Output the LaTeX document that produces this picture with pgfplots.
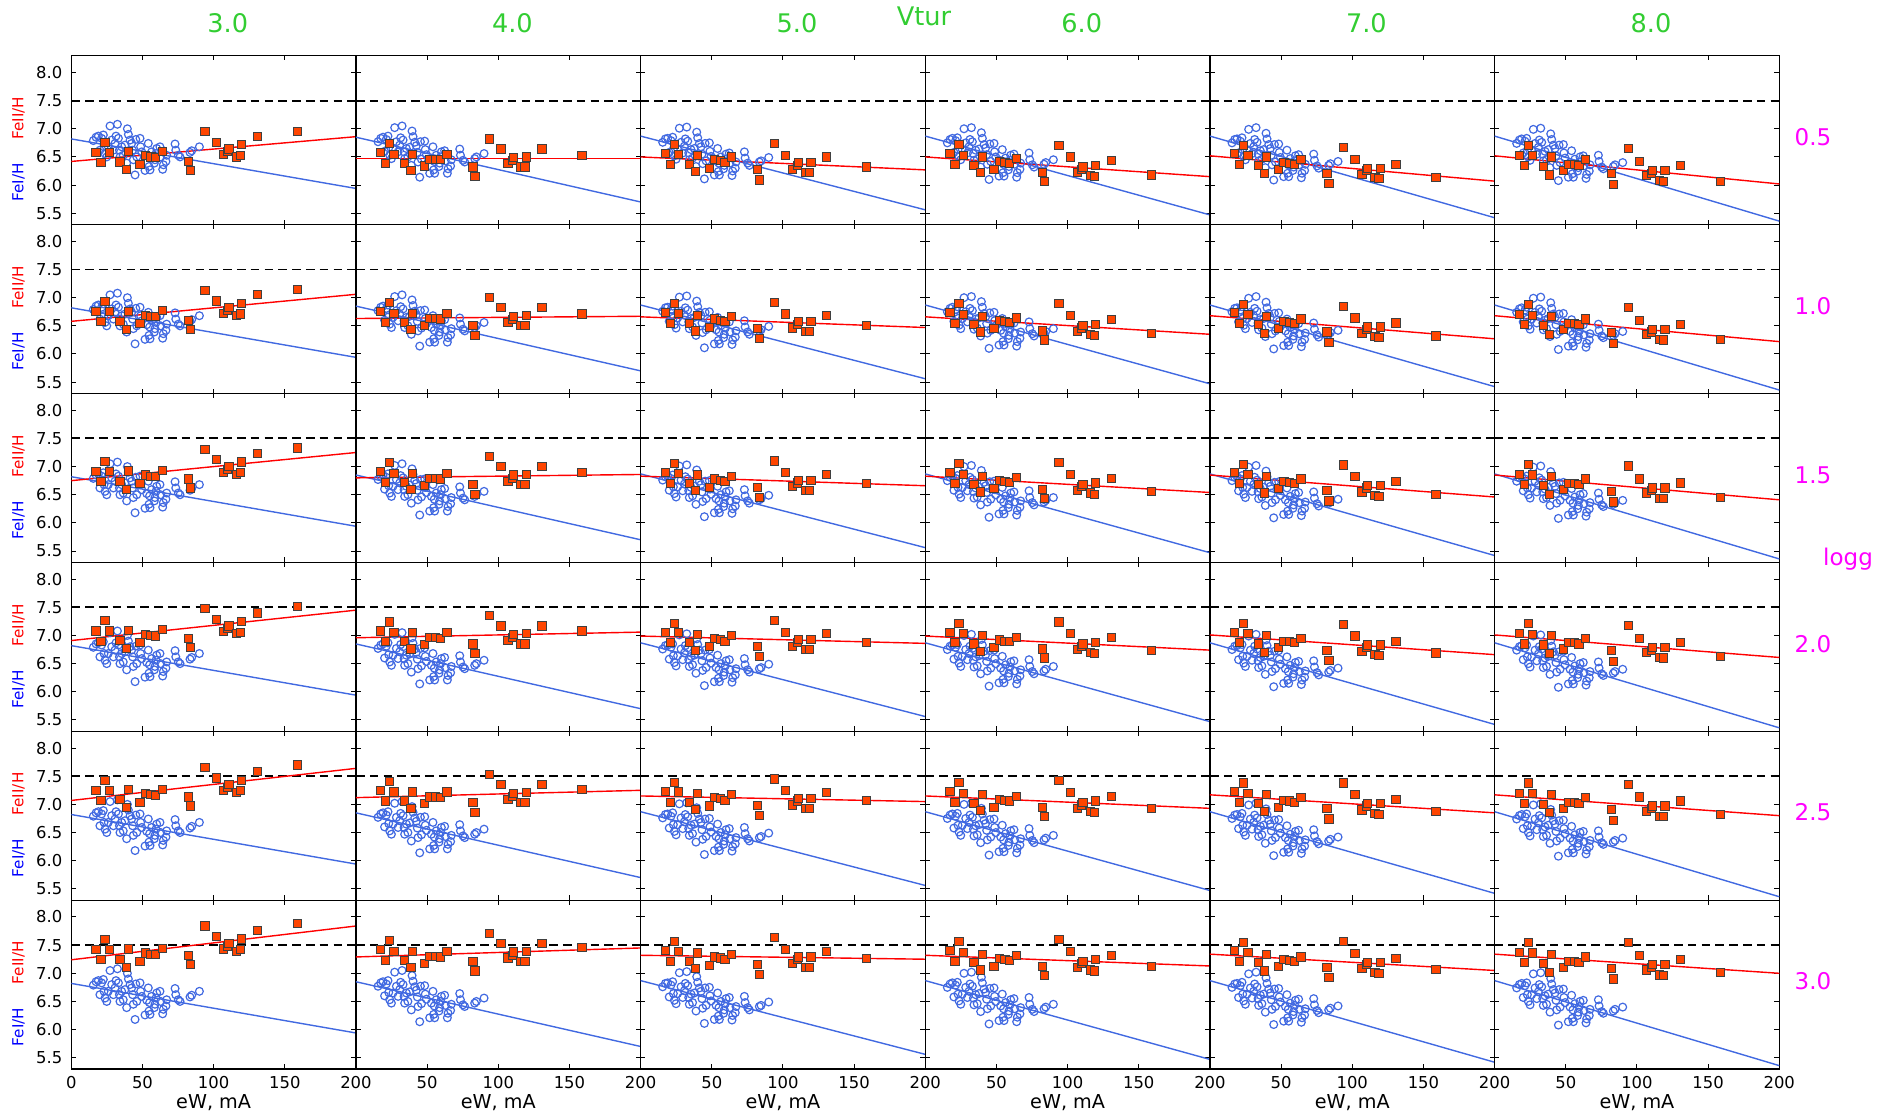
\documentclass[border=0pt]{standalone}
\usepackage{fontspec}
\setmainfont{DejaVu Sans}
\usepackage{pgfplots}
\usepackage{pgfplotstable}
\pgfplotsset{compat=1.18}
\definecolor{lgreen}{HTML}{32CD32}
\definecolor{royal}{HTML}{4169E1}
\definecolor{ored}{HTML}{FF4500}
\definecolor{mag}{HTML}{FF00FF}
\newcommand{\tickfont}{\fontsize{8.2}{9.5}\selectfont}
\newcommand{\xlabfont}{\fontsize{9.6}{11}\selectfont}
\newcommand{\labfont}{\fontsize{7.6}{9}\selectfont}
\newcommand{\bigfont}{\fontsize{12.8}{14}\selectfont}
\newcommand{\magfont}{\fontsize{11.5}{13}\selectfont}
\newcommand{\zerolab}{0}

\pgfplotstableread{
e c1 c2 c3 c4 c5 c6
15.5 6.79 6.77 6.76 6.75 6.75 6.74
17.4 6.85 6.83 6.82 6.81 6.81 6.80
19.0 6.87 6.85 6.83 6.83 6.82 6.82
20.1 6.62 6.60 6.58 6.58 6.57 6.57
21.3 6.83 6.81 6.79 6.79 6.78 6.78
22.5 6.89 6.87 6.85 6.84 6.84 6.83
23.0 6.68 6.66 6.64 6.63 6.63 6.62
23.7 6.56 6.53 6.52 6.51 6.51 6.50
24.9 6.50 6.47 6.46 6.45 6.45 6.44
26.0 6.68 6.65 6.64 6.63 6.63 6.62
27.2 7.05 7.02 7.01 7.00 6.99 6.99
28.4 6.80 6.77 6.76 6.75 6.74 6.74
29.6 6.62 6.59 6.57 6.57 6.56 6.55
30.7 6.74 6.71 6.69 6.68 6.68 6.67
31.4 6.87 6.84 6.82 6.81 6.81 6.80
32.4 7.08 7.05 7.03 7.02 7.02 7.01
33.1 6.83 6.80 6.78 6.77 6.76 6.76
33.8 6.62 6.59 6.57 6.56 6.55 6.55
34.2 6.50 6.47 6.45 6.44 6.43 6.43
35.4 6.68 6.65 6.63 6.62 6.61 6.60
36.5 6.53 6.50 6.48 6.46 6.46 6.45
37.7 6.71 6.67 6.65 6.64 6.63 6.63
38.9 6.39 6.35 6.33 6.32 6.31 6.31
39.4 7.00 6.96 6.94 6.93 6.92 6.91
40.1 6.90 6.86 6.84 6.83 6.82 6.81
41.3 6.80 6.76 6.74 6.72 6.72 6.71
42.4 6.74 6.70 6.68 6.66 6.65 6.65
43.1 6.62 6.58 6.55 6.54 6.53 6.52
43.6 6.45 6.41 6.38 6.37 6.36 6.35
44.8 6.18 6.14 6.11 6.10 6.09 6.08
45.3 6.81 6.77 6.74 6.73 6.72 6.71
46.0 6.50 6.46 6.43 6.42 6.41 6.40
48.3 6.83 6.78 6.75 6.74 6.73 6.72
48.7 6.68 6.63 6.60 6.59 6.58 6.57
49.5 6.59 6.54 6.51 6.50 6.49 6.48
51.8 6.26 6.21 6.18 6.16 6.15 6.14
53.0 6.52 6.47 6.43 6.42 6.41 6.40
54.1 6.74 6.68 6.65 6.63 6.62 6.61
54.6 6.33 6.27 6.24 6.22 6.21 6.20
55.0 6.48 6.42 6.39 6.37 6.36 6.35
55.3 6.27 6.21 6.18 6.16 6.15 6.14
56.4 6.59 6.53 6.50 6.48 6.47 6.46
58.3 6.39 6.33 6.29 6.27 6.26 6.25
58.8 6.45 6.39 6.35 6.33 6.32 6.31
59.5 6.56 6.50 6.46 6.44 6.43 6.41
60.0 6.65 6.59 6.55 6.53 6.52 6.50
62.3 6.68 6.61 6.57 6.55 6.54 6.52
62.8 6.50 6.43 6.39 6.37 6.36 6.34
64.2 6.28 6.21 6.17 6.14 6.13 6.12
64.7 6.36 6.29 6.25 6.22 6.21 6.19
66.5 6.42 6.34 6.30 6.28 6.26 6.25
67.0 6.53 6.45 6.41 6.39 6.37 6.36
72.9 6.73 6.64 6.59 6.57 6.55 6.53
73.4 6.62 6.53 6.48 6.45 6.44 6.42
75.2 6.53 6.44 6.39 6.36 6.34 6.32
76.4 6.50 6.41 6.35 6.32 6.30 6.29
83.4 6.58 6.47 6.41 6.37 6.35 6.33
84.6 6.61 6.50 6.43 6.40 6.38 6.36
90.0 6.68 6.56 6.49 6.45 6.42 6.40
}\tI

\pgfplotstableread{
e r1 r2 r3 r4 r5 r6
17.4 6.58 6.75 6.91 7.08 7.25 7.42
20.9 6.40 6.57 6.73 6.90 7.07 7.24
23.7 6.76 6.93 7.09 7.26 7.43 7.60
26.7 6.58 6.75 6.91 7.08 7.25 7.42
34.2 6.41 6.58 6.74 6.91 7.08 7.25
38.6 6.27 6.44 6.60 6.77 6.94 7.11
40.0 6.59 6.76 6.92 7.09 7.26 7.43
48.3 6.37 6.54 6.70 6.87 7.04 7.21
52.0 6.52 6.69 6.85 7.02 7.19 7.36
56.0 6.50 6.67 6.83 7.00 7.17 7.34
59.3 6.49 6.66 6.82 6.99 7.16 7.33
64.0 6.60 6.77 6.93 7.10 7.27 7.44
82.2 6.42 6.60 6.78 6.95 7.13 7.31
83.6 6.26 6.44 6.62 6.79 6.97 7.15
93.9 6.95 7.13 7.31 7.48 7.66 7.84
101.9 6.76 6.94 7.12 7.29 7.47 7.65
106.8 6.54 6.72 6.90 7.07 7.25 7.43
110.0 6.59 6.77 6.95 7.12 7.30 7.48
110.8 6.64 6.82 7.00 7.17 7.35 7.53
116.0 6.50 6.68 6.86 7.03 7.21 7.39
118.8 6.53 6.71 6.89 7.06 7.24 7.42
119.7 6.72 6.90 7.08 7.25 7.43 7.61
130.7 6.87 7.05 7.23 7.40 7.58 7.76
158.8 6.95 7.14 7.33 7.51 7.70 7.89
}\tIIa

\pgfplotstableread{
e r1 r2 r3 r4 r5 r6
17.4 6.58 6.75 6.91 7.08 7.25 7.42
20.9 6.39 6.56 6.72 6.89 7.06 7.23
23.7 6.74 6.91 7.07 7.24 7.41 7.58
26.7 6.55 6.72 6.88 7.05 7.22 7.39
34.2 6.39 6.56 6.72 6.89 7.06 7.23
38.6 6.26 6.43 6.59 6.76 6.93 7.10
40.0 6.55 6.72 6.88 7.05 7.22 7.39
48.3 6.34 6.51 6.67 6.84 7.01 7.18
52.0 6.46 6.63 6.79 6.96 7.13 7.30
56.0 6.46 6.63 6.79 6.96 7.13 7.30
59.3 6.45 6.62 6.78 6.95 7.12 7.29
64.0 6.55 6.72 6.88 7.05 7.22 7.39
82.2 6.32 6.50 6.68 6.85 7.03 7.21
83.6 6.15 6.33 6.51 6.68 6.86 7.04
93.9 6.82 7.00 7.18 7.35 7.53 7.71
101.9 6.64 6.82 7.00 7.17 7.35 7.53
106.8 6.38 6.56 6.74 6.91 7.09 7.27
110.0 6.43 6.61 6.79 6.96 7.14 7.32
110.8 6.49 6.67 6.85 7.02 7.20 7.38
116.0 6.32 6.50 6.68 6.85 7.03 7.21
118.8 6.32 6.50 6.68 6.85 7.03 7.21
119.7 6.50 6.68 6.86 7.03 7.21 7.39
130.7 6.64 6.82 7.00 7.17 7.35 7.53
158.8 6.52 6.71 6.90 7.08 7.27 7.46
}\tIIb

\pgfplotstableread{
e r1 r2 r3 r4 r5 r6
17.4 6.56 6.73 6.89 7.06 7.23 7.40
20.9 6.37 6.54 6.70 6.87 7.04 7.21
23.7 6.72 6.89 7.05 7.22 7.39 7.56
26.7 6.55 6.72 6.88 7.05 7.22 7.39
34.2 6.37 6.54 6.70 6.87 7.04 7.21
38.6 6.24 6.41 6.57 6.74 6.91 7.08
40.0 6.52 6.69 6.85 7.02 7.19 7.36
48.3 6.30 6.47 6.63 6.80 6.97 7.14
52.0 6.45 6.62 6.78 6.95 7.12 7.29
56.0 6.43 6.60 6.76 6.93 7.10 7.27
59.3 6.40 6.57 6.73 6.90 7.07 7.24
64.0 6.50 6.67 6.83 7.00 7.17 7.34
82.2 6.27 6.45 6.63 6.80 6.98 7.16
83.6 6.09 6.27 6.45 6.62 6.80 6.98
93.9 6.74 6.92 7.10 7.27 7.45 7.63
101.9 6.53 6.71 6.89 7.06 7.24 7.42
106.8 6.28 6.46 6.64 6.81 6.99 7.17
110.0 6.35 6.53 6.71 6.88 7.06 7.24
110.8 6.40 6.58 6.76 6.93 7.11 7.29
116.0 6.22 6.40 6.58 6.75 6.93 7.11
118.8 6.22 6.40 6.58 6.75 6.93 7.11
119.7 6.40 6.58 6.76 6.93 7.11 7.29
130.7 6.50 6.68 6.86 7.03 7.21 7.39
158.8 6.32 6.51 6.70 6.88 7.07 7.26
}\tIIc

\pgfplotstableread{
e r1 r2 r3 r4 r5 r6
17.4 6.56 6.73 6.89 7.06 7.23 7.40
20.9 6.37 6.54 6.70 6.87 7.04 7.21
23.7 6.72 6.89 7.05 7.22 7.39 7.56
26.7 6.53 6.70 6.86 7.03 7.20 7.37
34.2 6.35 6.52 6.68 6.85 7.02 7.19
38.6 6.22 6.39 6.55 6.72 6.89 7.06
40.0 6.50 6.67 6.83 7.00 7.17 7.34
48.3 6.28 6.45 6.61 6.78 6.95 7.12
52.0 6.42 6.59 6.75 6.92 7.09 7.26
56.0 6.40 6.57 6.73 6.90 7.07 7.24
59.3 6.39 6.56 6.72 6.89 7.06 7.23
64.0 6.47 6.64 6.80 6.97 7.14 7.31
82.2 6.23 6.41 6.59 6.76 6.94 7.12
83.6 6.07 6.25 6.43 6.60 6.78 6.96
93.9 6.71 6.89 7.07 7.24 7.42 7.60
101.9 6.50 6.68 6.86 7.03 7.21 7.39
106.8 6.22 6.40 6.58 6.75 6.93 7.11
110.0 6.28 6.46 6.64 6.81 6.99 7.17
110.8 6.32 6.50 6.68 6.85 7.03 7.21
116.0 6.17 6.35 6.53 6.70 6.88 7.06
118.8 6.15 6.33 6.51 6.68 6.86 7.04
119.7 6.35 6.53 6.71 6.88 7.06 7.24
130.7 6.43 6.61 6.79 6.96 7.14 7.32
158.8 6.18 6.37 6.56 6.74 6.93 7.12
}\tIId

\pgfplotstableread{
e r1 r2 r3 r4 r5 r6
17.4 6.56 6.73 6.89 7.06 7.23 7.40
20.9 6.37 6.54 6.70 6.87 7.04 7.21
23.7 6.71 6.88 7.04 7.21 7.38 7.55
26.7 6.53 6.70 6.86 7.03 7.20 7.37
34.2 6.35 6.52 6.68 6.85 7.02 7.19
38.6 6.20 6.37 6.53 6.70 6.87 7.04
40.0 6.50 6.67 6.83 7.00 7.17 7.34
48.3 6.28 6.45 6.61 6.78 6.95 7.12
52.0 6.40 6.57 6.73 6.90 7.07 7.24
56.0 6.39 6.56 6.72 6.89 7.06 7.23
59.3 6.37 6.54 6.70 6.87 7.04 7.21
64.0 6.45 6.62 6.78 6.95 7.12 7.29
82.2 6.21 6.39 6.57 6.74 6.92 7.10
83.6 6.03 6.21 6.39 6.56 6.74 6.92
93.9 6.67 6.85 7.03 7.20 7.38 7.56
101.9 6.46 6.64 6.82 6.99 7.17 7.35
106.8 6.19 6.37 6.55 6.72 6.90 7.08
110.0 6.26 6.44 6.62 6.79 6.97 7.15
110.8 6.30 6.48 6.66 6.83 7.01 7.19
116.0 6.13 6.31 6.49 6.66 6.84 7.02
118.8 6.11 6.29 6.47 6.64 6.82 7.00
119.7 6.30 6.48 6.66 6.83 7.01 7.19
130.7 6.37 6.55 6.73 6.90 7.08 7.26
158.8 6.13 6.32 6.51 6.69 6.88 7.07
}\tIIe

\pgfplotstableread{
e r1 r2 r3 r4 r5 r6
17.4 6.53 6.70 6.86 7.03 7.20 7.37
20.9 6.35 6.52 6.68 6.85 7.02 7.19
23.7 6.71 6.88 7.04 7.21 7.38 7.55
26.7 6.52 6.69 6.85 7.02 7.19 7.36
34.2 6.33 6.50 6.66 6.83 7.00 7.17
38.6 6.18 6.35 6.51 6.68 6.85 7.02
40.0 6.50 6.67 6.83 7.00 7.17 7.34
48.3 6.26 6.43 6.59 6.76 6.93 7.10
52.0 6.37 6.54 6.70 6.87 7.04 7.21
56.0 6.37 6.54 6.70 6.87 7.04 7.21
59.3 6.35 6.52 6.68 6.85 7.02 7.19
64.0 6.45 6.62 6.78 6.95 7.12 7.29
82.2 6.20 6.38 6.56 6.73 6.91 7.09
83.6 6.01 6.19 6.37 6.54 6.72 6.90
93.9 6.65 6.83 7.01 7.18 7.36 7.54
101.9 6.42 6.60 6.78 6.95 7.13 7.31
106.8 6.17 6.35 6.53 6.70 6.88 7.06
110.0 6.21 6.39 6.57 6.74 6.92 7.10
110.8 6.26 6.44 6.62 6.79 6.97 7.15
116.0 6.08 6.26 6.44 6.61 6.79 6.97
118.8 6.07 6.25 6.43 6.60 6.78 6.96
119.7 6.26 6.44 6.62 6.79 6.97 7.15
130.7 6.35 6.53 6.71 6.88 7.06 7.24
158.8 6.07 6.26 6.45 6.63 6.82 7.01
}\tIIf

\pgfplotsset{
  panel/.style={
    scale only axis, width=142.33pt, height=84.45pt,
    anchor=south west,
    xmin=0, xmax=200, ymin=5.3, ymax=8.3,
    xtick={0,50,100,150,200}, ytick={5.5,6,6.5,7,7.5,8},
    minor tick num=0,
    tick align=inside, xtick pos=both, ytick pos=both,
    xticklabel pos=bottom, yticklabel pos=left,
    major tick length=2.4pt,
    tick style={black, line width=0.5pt},
    axis line style={black, line width=0.55pt},
    /pgf/number format/assume math mode=true,
    ticklabel style={font=\tickfont},
    yticklabel style={/pgf/number format/fixed, /pgf/number format/fixed zerofill, /pgf/number format/precision=1, xshift=-1.0pt},
    xticklabel style={yshift=-0.3pt},
    clip=true,
  },
  col0/.style={}, col1/.style={yticklabels={}}, col2/.style={yticklabels={}},
  col3/.style={yticklabels={}}, col4/.style={yticklabels={}}, col5/.style={yticklabels={}},
  row0/.style={xticklabels={}}, row1/.style={xticklabels={}}, row2/.style={xticklabels={}},
  row3/.style={xticklabels={}}, row4/.style={xticklabels={}},
  row5/.style={xticklabels={\zerolab,50,100,150,200}},
}

% #1 col, #2 row, #3 FeII table, #4 FeII column, #5 FeI column, #6/#7 blue line, #8/#9 red line
\newcommand{\panel}[9]{%
  \ifnum#1=0 \renewcommand{\zerolab}{0}\else\renewcommand{\zerolab}{}\fi
  \begin{axis}[panel, col#1, row#2,
      at={({35.65pt+#1*142.33pt},{23pt+(5-#2)*84.45pt})}]
    \addplot[black, dash pattern=on 4.3pt off 2.6pt, line width=0.95pt] coordinates {(0,7.5) (200,7.5)};
    \addplot[only marks, mark=o, mark size=1.95pt, mark options={draw=royal, line width=0.6pt}] table[x=e, y=#5] {\tI};
    \addplot[royal, line width=0.7pt] coordinates {(0,#6) (200,#7)};
    \addplot[red, line width=0.7pt] coordinates {(0,#8) (200,#9)};
    \addplot[only marks, mark=square*, mark size=2.05pt, mark options={fill=ored, draw=black!75, line width=0.5pt}] table[x=e, y=#4] {#3};
  \end{axis}}

\begin{document}
\begin{tikzpicture}
\path[use as bounding box] (0,0) rectangle (947pt,557.5pt);
% column 1 (Vtur 3.0)
\panel{0}{0}{\tIIa}{r1}{c1}{6.82}{5.94}{6.42}{6.86}
\panel{0}{1}{\tIIa}{r2}{c1}{6.82}{5.94}{6.58}{7.06}
\panel{0}{2}{\tIIa}{r3}{c1}{6.82}{5.94}{6.75}{7.25}
\panel{0}{3}{\tIIa}{r4}{c1}{6.82}{5.94}{6.91}{7.45}
\panel{0}{4}{\tIIa}{r5}{c1}{6.82}{5.94}{7.07}{7.64}
\panel{0}{5}{\tIIa}{r6}{c1}{6.82}{5.94}{7.24}{7.84}
% column 2 (Vtur 4.0)
\panel{1}{0}{\tIIb}{r1}{c2}{6.85}{5.70}{6.47}{6.47}
\panel{1}{1}{\tIIb}{r2}{c2}{6.85}{5.70}{6.63}{6.67}
\panel{1}{2}{\tIIb}{r3}{c2}{6.85}{5.70}{6.80}{6.86}
\panel{1}{3}{\tIIb}{r4}{c2}{6.85}{5.70}{6.96}{7.06}
\panel{1}{4}{\tIIb}{r5}{c2}{6.85}{5.70}{7.12}{7.25}
\panel{1}{5}{\tIIb}{r6}{c2}{6.85}{5.70}{7.29}{7.45}
% column 3 (Vtur 5.0)
\panel{2}{0}{\tIIc}{r1}{c3}{6.87}{5.56}{6.50}{6.27}
\panel{2}{1}{\tIIc}{r2}{c3}{6.87}{5.56}{6.66}{6.47}
\panel{2}{2}{\tIIc}{r3}{c3}{6.87}{5.56}{6.83}{6.66}
\panel{2}{3}{\tIIc}{r4}{c3}{6.87}{5.56}{6.99}{6.86}
\panel{2}{4}{\tIIc}{r5}{c3}{6.87}{5.56}{7.15}{7.05}
\panel{2}{5}{\tIIc}{r6}{c3}{6.87}{5.56}{7.32}{7.25}
% column 4 (Vtur 6.0)
\panel{3}{0}{\tIId}{r1}{c4}{6.87}{5.47}{6.50}{6.15}
\panel{3}{1}{\tIId}{r2}{c4}{6.87}{5.47}{6.66}{6.35}
\panel{3}{2}{\tIId}{r3}{c4}{6.87}{5.47}{6.83}{6.54}
\panel{3}{3}{\tIId}{r4}{c4}{6.87}{5.47}{6.99}{6.74}
\panel{3}{4}{\tIId}{r5}{c4}{6.87}{5.47}{7.15}{6.93}
\panel{3}{5}{\tIId}{r6}{c4}{6.87}{5.47}{7.32}{7.13}
% column 5 (Vtur 7.0)
\panel{4}{0}{\tIIe}{r1}{c5}{6.87}{5.42}{6.52}{6.07}
\panel{4}{1}{\tIIe}{r2}{c5}{6.87}{5.42}{6.68}{6.27}
\panel{4}{2}{\tIIe}{r3}{c5}{6.87}{5.42}{6.85}{6.46}
\panel{4}{3}{\tIIe}{r4}{c5}{6.87}{5.42}{7.01}{6.66}
\panel{4}{4}{\tIIe}{r5}{c5}{6.87}{5.42}{7.17}{6.85}
\panel{4}{5}{\tIIe}{r6}{c5}{6.87}{5.42}{7.34}{7.05}
% column 6 (Vtur 8.0)
\panel{5}{0}{\tIIf}{r1}{c6}{6.87}{5.36}{6.52}{6.02}
\panel{5}{1}{\tIIf}{r2}{c6}{6.87}{5.36}{6.68}{6.22}
\panel{5}{2}{\tIIf}{r3}{c6}{6.87}{5.36}{6.85}{6.41}
\panel{5}{3}{\tIIf}{r4}{c6}{6.87}{5.36}{7.01}{6.61}
\panel{5}{4}{\tIIf}{r5}{c6}{6.87}{5.36}{7.17}{6.80}
\panel{5}{5}{\tIIf}{r6}{c6}{6.87}{5.36}{7.34}{7.00}

% row labels on the left
\foreach \j in {0,...,5} {
  \node[rotate=90, text=red, font=\labfont, inner sep=0pt] at (9.3pt, {498.35pt-\j*84.45pt}) {FeII/H};
  \node[rotate=90, text=blue, font=\labfont, inner sep=0pt] at (9.3pt, {466.25pt-\j*84.45pt}) {FeI/H};
}
% x labels
\foreach \i in {0,...,5} {
  \node[font=\xlabfont, inner sep=0pt] at ({106.82pt+\i*142.33pt}, 6.2pt) {eW, mA};
}
% column headers
\foreach \v [count=\i from 0] in {3.0,4.0,5.0,6.0,7.0,8.0} {
  \node[text=lgreen, font=\bigfont, inner sep=0pt] at ({113.85pt+\i*142.33pt}, 545.85pt) {\v};
}
\node[text=lgreen, font=\bigfont, inner sep=0pt] at (462pt, 549.3pt) {Vtur};
% row headers
\foreach \v [count=\j from 0] in {0.5,1.0,1.5,2.0,2.5,3.0} {
  \node[text=mag, font=\magfont, inner sep=0pt] at (906.5pt, {489pt-\j*84.45pt}) {\v};
}
\node[text=mag, font=\magfont, inner sep=0pt] at (924pt, 278pt) {logg};
\end{tikzpicture}
\end{document}
